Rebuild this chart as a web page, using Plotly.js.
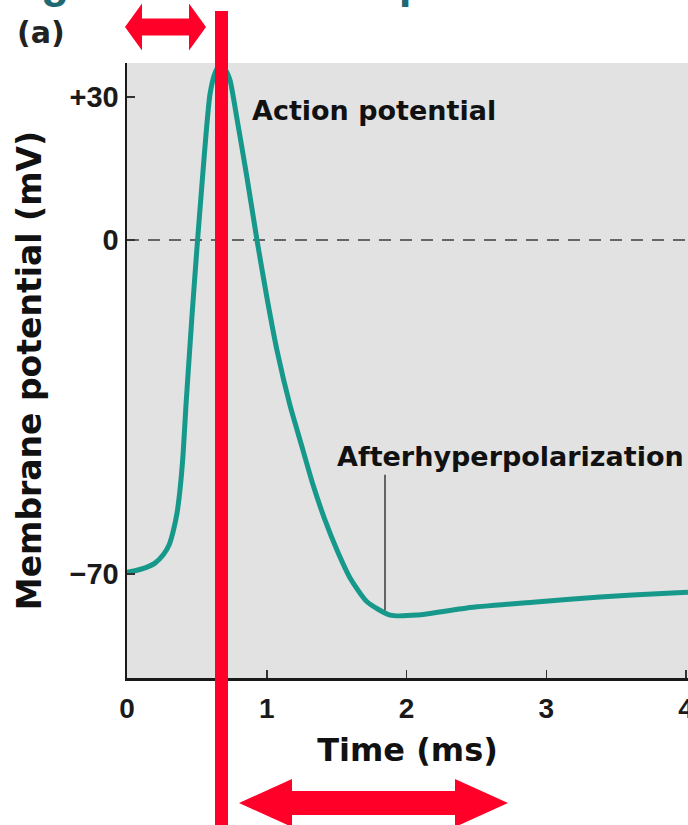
<!DOCTYPE html>
<html>
<head>
<meta charset="utf-8">
<script src="https://cdn.plot.ly/plotly-3.0.1.min.js"></script>
<style>html,body{margin:0;padding:0;background:#fff;}#chart{width:688px;height:825px;}</style>
</head>
<body>
<div id="chart"></div>
<script>
// ---- data ----
const timeMs = [0, 0.057, 0.129, 0.200, 0.258, 0.301, 0.329, 0.358, 0.379, 0.401, 0.422, 0.444, 0.465, 0.501, 0.537, 0.565, 0.594, 0.630, 0.665, 0.701, 0.737, 0.787, 0.859, 0.930, 1.002, 1.073, 1.166, 1.238, 1.331, 1.417, 1.503, 1.596, 1.717, 1.882, 2.075, 2.433, 2.905, 3.385, 3.864, 4.014];
const potentialMv = [-69.6, -69.3, -68.7, -67.7, -66.0, -63.9, -61.2, -57.2, -52.4, -45.0, -34.6, -25.0, -15.9, -1.5, 11.9, 22.0, 30.6, 35.0, 36.7, 35.8, 33.5, 25.4, 13.0, 0.0, -12.2, -23.1, -34.6, -41.9, -51.3, -58.7, -65.0, -70.8, -75.8, -78.6, -78.6, -77.1, -75.9, -74.8, -74.0, -73.8];
const xTickVals = [0, 1, 2, 3, 4];
const xTickText = ['0', '1', '2', '3', '4'];
const yTickVals = [30, 0, -70];
const yTickText = ['+30', '0', '\u221270'];
const xTitle = 'Time (ms)';
const yTitle = 'Membrane potential (mV)';
const labelAP = 'Action potential';
const labelAHP = 'Afterhyperpolarization';
const ahpTime = 1.846;          // time of the afterhyperpolarization pointer
const ahpPointer = [-49.2, -77.6];
const panelLabel = '(a)';
const headline = 'Figure 4.1\u00a0\u00a0Action potential';

// ---- layout geometry ----
const L = 127, R = 688, T = 63, B = 678;
const W = R - L, H = B - T;
const PX = x => (x - L) / W;
const PY = y => (B - y) / H;
const xMax = 4.014, yMin = -91.78, yMax = 37.10;

const red = '#ff0029';
function arrowPath(x1, x2, yc, headLen, headHalf, shaftHalf) {
  const p = [
    [x1, yc], [x1 + headLen, yc - headHalf], [x1 + headLen, yc - shaftHalf],
    [x2 - headLen, yc - shaftHalf], [x2 - headLen, yc - headHalf], [x2, yc],
    [x2 - headLen, yc + headHalf], [x2 - headLen, yc + shaftHalf],
    [x1 + headLen, yc + shaftHalf], [x1 + headLen, yc + headHalf]
  ];
  return 'M' + p.map(q => PX(q[0]).toFixed(5) + ',' + PY(q[1]).toFixed(5)).join(' L') + ' Z';
}

const traces = [{
  x: timeMs, y: potentialMv, type: 'scatter', mode: 'lines',
  line: {color: '#16988b', width: 5, shape: 'spline', smoothing: 0.6},
  hoverinfo: 'skip'
}];

const boldSans = 'DejaVu Sans, Verdana, sans-serif';
const tickFam = 'Liberation Sans, Arial, sans-serif';

const layout = {
  width: 688, height: 825,
  margin: {l: L, r: 688 - R, t: T, b: 825 - B, pad: 0},
  paper_bgcolor: '#ffffff',
  plot_bgcolor: '#e2e2e2',
  showlegend: false,
  xaxis: {
    range: [0, xMax], tickmode: 'array', tickvals: xTickVals, ticktext: xTickText,
    ticks: 'inside', ticklen: 8, tickwidth: 1.5, tickcolor: '#333',
    showline: true, linecolor: '#1a1a1a', linewidth: 2.5,
    showgrid: false, zeroline: false, automargin: false,
    ticklabelstandoff: 4, ticklabeloverflow: 'allow',
    tickfont: {family: tickFam, size: 28, color: '#1a1a1a', weight: 'bold'},
    title: {text: xTitle, standoff: 16, font: {family: boldSans, size: 32, color: '#111', weight: 'bold'}}
  },
  yaxis: {
    range: [yMin, yMax], tickmode: 'array', tickvals: yTickVals, ticktext: yTickText,
    ticks: 'inside', ticklen: 8, tickwidth: 1.5, tickcolor: '#333',
    showline: true, linecolor: '#1a1a1a', linewidth: 2.5,
    showgrid: false, zeroline: false, automargin: false,
    ticklabelstandoff: 0, ticklabeloverflow: 'allow',
    tickfont: {family: tickFam, size: 29, color: '#1a1a1a', weight: 'bold'},
    title: {text: yTitle, standoff: 18, font: {family: boldSans, size: 33, color: '#111', weight: 'bold'}}
  },
  shapes: [
    {type: 'line', xref: 'x', yref: 'y', x0: 0, x1: xMax, y0: 0, y1: 0, layer: 'below',
     line: {color: '#666', width: 2, dash: '12px,9px'}},
    {type: 'line', xref: 'x', yref: 'y', x0: ahpTime, x1: ahpTime, y0: ahpPointer[0], y1: ahpPointer[1],
     line: {color: '#3a3a3a', width: 1.5}},
    {type: 'rect', xref: 'paper', yref: 'paper', x0: PX(215), x1: PX(228), y0: PY(11), y1: PY(830),
     fillcolor: red, line: {width: 0}, layer: 'above'},
    {type: 'path', xref: 'paper', yref: 'paper', path: arrowPath(125, 206, 27, 17, 23.5, 8.5),
     fillcolor: red, line: {width: 0}, layer: 'above'},
    {type: 'path', xref: 'paper', yref: 'paper', path: arrowPath(239, 508, 803, 53, 24, 12),
     fillcolor: red, line: {width: 0}, layer: 'above'}
  ],
  annotations: [
    {text: labelAP, xref: 'paper', yref: 'paper', x: PX(250), y: PY(110), xanchor: 'left', yanchor: 'middle',
     showarrow: false, font: {family: boldSans, size: 27, color: '#111', weight: 'bold'}},
    {text: labelAHP, xref: 'paper', yref: 'paper', x: PX(335), y: PY(456), xanchor: 'left', yanchor: 'middle',
     showarrow: false, font: {family: boldSans, size: 27, color: '#111', weight: 'bold'}},
    {text: panelLabel, xref: 'paper', yref: 'paper', x: PX(41), y: PY(32), xanchor: 'center', yanchor: 'middle',
     showarrow: false, font: {family: boldSans, size: 30, color: '#222', weight: 'bold'}},
    {text: headline, xref: 'paper', yref: 'paper', x: PX(-2), y: PY(9), xanchor: 'left', yanchor: 'bottom',
     showarrow: false, font: {family: tickFam, size: 46, color: '#1d6a72', weight: 'bold'}}
  ]
};

Plotly.newPlot('chart', traces, layout, {displayModeBar: false, staticPlot: true});
</script>
</body>
</html>
